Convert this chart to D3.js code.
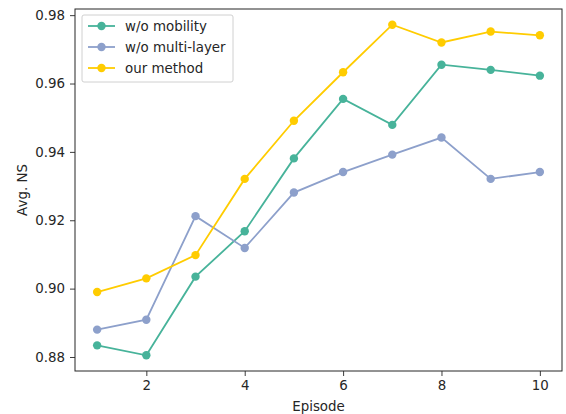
<!DOCTYPE html>
<html>
<head>
<meta charset="utf-8">
<script src="https://cdn.jsdelivr.net/npm/d3@7"></script>
<style>
  body { margin: 0; background: #fff; }
  svg text { font-family: "DejaVu Sans", sans-serif; fill: #262626; }
</style>
</head>
<body>
<svg id="chart" width="566" height="414"></svg>
<script>
// data
var episodes = [1, 2, 3, 4, 5, 6, 7, 8, 9, 10];
var noMobility = [0.8834, 0.8805, 0.9035, 0.9168, 0.9381, 0.9555, 0.9479, 0.9655, 0.9640, 0.9623];
var noMultiLayer = [0.8880, 0.8909, 0.9212, 0.9119, 0.9281, 0.9341, 0.9392, 0.9442, 0.9321, 0.9341];
var ourMethod = [0.8990, 0.9030, 0.9098, 0.9321, 0.9491, 0.9633, 0.9772, 0.9720, 0.9752, 0.9741];
var seriesNames = ['w/o mobility', 'w/o multi-layer', 'our method'];
var seriesColors = ['#47b39a', '#8da0cb', '#ffcc00'];
var xTicks = [2, 4, 6, 8, 10];
var yTicks = [0.88, 0.90, 0.92, 0.94, 0.96, 0.98];

var series = [noMobility, noMultiLayer, ourMethod].map(function(vals, i) {
    return {
        name: seriesNames[i],
        color: seriesColors[i],
        values: vals.map(function(v, j) { return {x: episodes[j], y: v}; })
    };
});

var fontSize = '13.4px';

var margin = {top: 9, right: 4, bottom: 43, left: 75},
    width = 566 - margin.left - margin.right,
    height = 414 - margin.top - margin.bottom;

var svg = d3.select('#chart');
var g = svg.append('g')
    .attr('transform', 'translate(' + margin.left + ',' + margin.top + ')');

var x = d3.scaleLinear().domain([0.55, 10.45]).range([0, width]);
var y = d3.scaleLinear().domain([0.8759, 0.9818]).range([height, 0]);

// axes
var xAxis = g.append('g')
    .attr('transform', 'translate(0,' + height + ')')
    .call(d3.axisBottom(x).tickValues(xTicks).tickFormat(d3.format('d')).tickSizeOuter(0).tickSize(5).tickPadding(4));
var yAxis = g.append('g')
    .call(d3.axisLeft(y).tickValues(yTicks).tickFormat(d3.format('.2f')).tickSizeOuter(0).tickSize(5).tickPadding(5));

[xAxis, yAxis].forEach(function(a) {
    a.select('.domain').remove();
    a.selectAll('line').attr('stroke', '#262626').attr('stroke-width', 0.9);
    a.selectAll('text').style('font-size', fontSize).attr('fill', '#262626');
});

// frame
g.append('rect')
    .attr('width', width).attr('height', height)
    .attr('fill', 'none').attr('stroke', '#262626').attr('stroke-width', 1);

// lines + markers
var line = d3.line()
    .x(function(d) { return x(d.x); })
    .y(function(d) { return y(d.y); });

series.forEach(function(s) {
    g.append('path')
        .datum(s.values)
        .attr('d', line)
        .attr('fill', 'none')
        .attr('stroke', s.color)
        .attr('stroke-width', 1.8);
    g.selectAll(null)
        .data(s.values)
        .enter().append('circle')
        .attr('cx', function(d) { return x(d.x); })
        .attr('cy', function(d) { return y(d.y); })
        .attr('r', 4.2)
        .attr('fill', s.color);
});

// axis labels
svg.append('text')
    .attr('x', margin.left + width / 2)
    .attr('y', 411)
    .attr('text-anchor', 'middle')
    .style('font-size', fontSize)
    .text('Episode');

svg.append('text')
    .attr('transform', 'translate(27,' + (margin.top + height / 2) + ') rotate(-90)')
    .attr('text-anchor', 'middle')
    .style('font-size', fontSize)
    .text('Avg. NS');

// legend
var legend = svg.append('g').attr('transform', 'translate(82,15)');
legend.append('rect')
    .attr('width', 151).attr('height', 67).attr('rx', 2)
    .attr('fill', '#fff').attr('fill-opacity', 0.8)
    .attr('stroke', '#d0d0d0').attr('stroke-width', 1);

var item = legend.selectAll('.item')
    .data(series)
    .enter().append('g')
    .attr('class', 'item')
    .attr('transform', function(d, i) { return 'translate(0,' + (11 + i * 21) + ')'; });

item.append('line')
    .attr('x1', 6).attr('x2', 33)
    .attr('stroke', function(d) { return d.color; })
    .attr('stroke-width', 1.8);
item.append('circle')
    .attr('cx', 19.5).attr('r', 4.2)
    .attr('fill', function(d) { return d.color; });
item.append('text')
    .attr('x', 43).attr('dy', '0.35em')
    .style('font-size', fontSize)
    .text(function(d) { return d.name; });
</script>
</body>
</html>
